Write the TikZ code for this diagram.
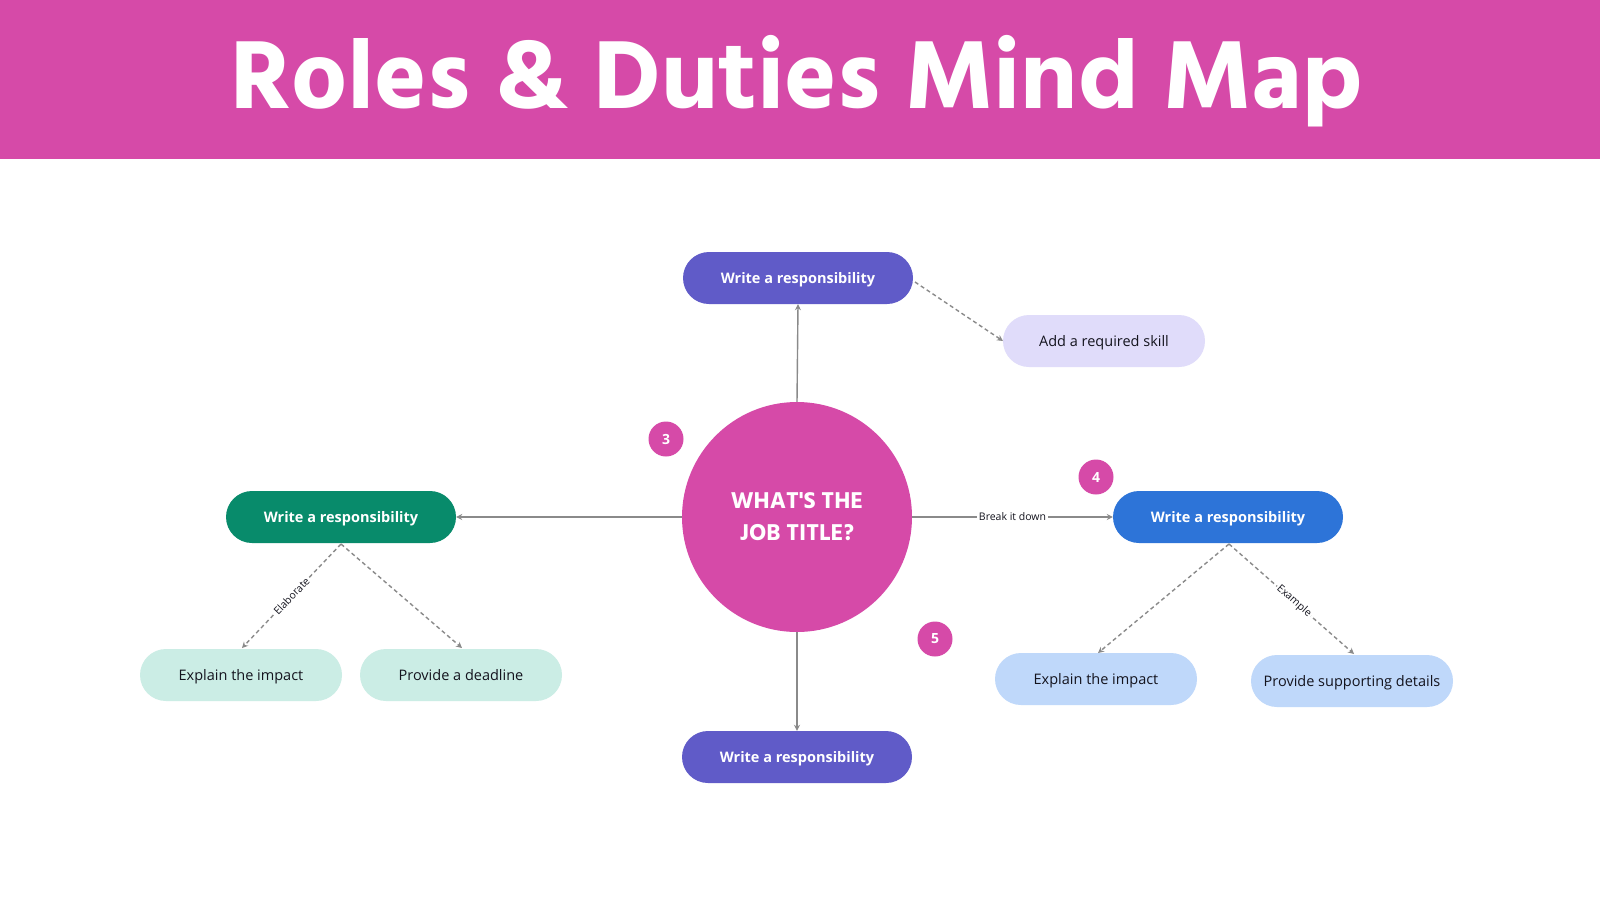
\documentclass[tikz,border=0pt]{standalone}
\usepackage{fontspec}
\setmainfont{Open Sans}
\newfontfamily\headfont{Hind Siliguri}[BoldFont={* Bold}]
\usetikzlibrary{arrows.meta}
\definecolor{pinkc}{RGB}{214,74,168}
\definecolor{purplec}{RGB}{96,91,200}
\definecolor{greenc}{RGB}{8,139,107}
\definecolor{bluec}{RGB}{45,116,216}
\definecolor{lavc}{RGB}{224,220,250}
\definecolor{mintc}{RGB}{203,237,229}
\definecolor{lbluec}{RGB}{191,216,250}
\definecolor{linec}{RGB}{138,138,138}
\definecolor{textc}{RGB}{20,20,30}
\tikzset{
  pill/.style={rectangle, rounded corners=26pt, minimum width=230pt, minimum height=52pt, inner sep=0pt, text height=10.5pt, text depth=0pt, text=white, font=\fontsize{14.5}{16}\selectfont\bfseries},
  subpill/.style={rectangle, rounded corners=26pt, minimum width=202pt, minimum height=52pt, inner sep=0pt, text height=10.5pt, text depth=0pt, text=textc, font=\fontsize{14.5}{16}\selectfont},
  badge/.style={circle, fill=pinkc, minimum size=35pt, inner sep=0pt, text=white, font=\fontsize{14}{16}\selectfont\bfseries},
  conn/.style={draw=linec, line width=1.4pt, -{Stealth[length=6pt,width=6pt]}},
  dconn/.style={conn, dash pattern=on 4pt off 3pt},
  lbl/.style={fill=white, inner sep=1.5pt, text=textc, font=\fontsize{10.5}{12}\selectfont}
}
\begin{document}
\begin{tikzpicture}[x=1pt,y=-1pt]
\path[use as bounding box, fill=white] (0,0) rectangle (1600,900);
\fill[pinkc] (0,0) rectangle (1600,159);
\node[anchor=base, text=white, inner sep=0pt, font=\headfont\bfseries\fontsize{99}{105}\selectfont] (title) at (797,108) {Roles \& Duties Mind Map};

\node[circle, fill=pinkc, minimum size=230pt, inner sep=0pt, text=white, align=center, font=\headfont\bfseries\fontsize{23.5}{32}\selectfont] (center) at (797,517) {WHAT'S THE\\JOB TITLE?};

\node[pill, fill=purplec] (top) at (798,278) {Write a responsibility};
\node[pill, fill=greenc] (left) at (341,517) {Write a responsibility};
\node[pill, fill=bluec] (right) at (1228,517) {Write a responsibility};
\node[pill, fill=purplec] (bottom) at (797,757) {Write a responsibility};

\node[subpill, fill=lavc] (skill) at (1104,341) {Add a required skill};
\node[subpill, fill=mintc] (limpact) at (241,675) {Explain the impact};
\node[subpill, fill=mintc] (deadline) at (461,675) {Provide a deadline};
\node[subpill, fill=lbluec] (rimpact) at (1096,679) {Explain the impact};
\node[subpill, fill=lbluec] (details) at (1352,681) {Provide supporting details};

\node[badge] (b3) at (666,439) {3};
\node[badge] (b4) at (1096,477) {4};
\node[badge] (b5) at (935,639) {5};

\draw[conn] (center.north) -- (top.south);
\draw[conn] (center.west) -- (left.east);
\draw[conn] (center.south) -- (bottom.north);
\draw[conn] (center.east) -- node[lbl] {Break it down} (right.west);

\coordinate (topR) at (915,282);
\coordinate (skillL) at (1003,341);
\draw[dconn] (topR) -- (skillL);

\coordinate (lsrc) at (341,544);
\coordinate (limpT) at (242,648);
\coordinate (deadT) at (462,648);
\draw[dconn] (lsrc) -- node[lbl, sloped] {Elaborate} (limpT);
\draw[dconn] (lsrc) -- (deadT);

\coordinate (rsrc) at (1229,544);
\coordinate (rimpT) at (1098,653);
\coordinate (detT) at (1354,654);
\draw[dconn] (rsrc) -- (rimpT);
\draw[dconn] (rsrc) -- node[lbl, sloped, pos=0.52] {Example} (detT);
\end{tikzpicture}
\end{document}
